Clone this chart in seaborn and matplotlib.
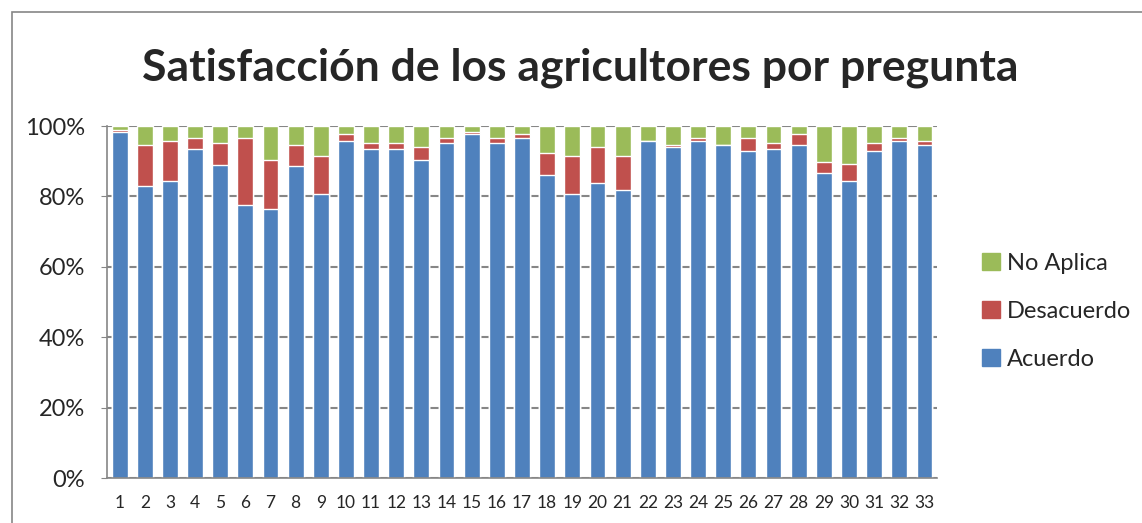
import matplotlib
matplotlib.use("Agg")
import matplotlib.pyplot as plt
import matplotlib.patches as mpatches
import numpy as np
import pandas as pd
import seaborn as sns

preguntas = [str(i) for i in range(1, 34)]
acuerdo = [98.3, 83.0, 84.4, 93.5, 89.0, 77.7, 76.5, 88.6, 80.7, 95.8, 93.5,
           93.5, 90.4, 95.2, 97.7, 95.2, 96.5, 86.1, 80.7, 83.8, 81.9, 95.8,
           94.1, 95.8, 94.7, 93.0, 93.5, 94.7, 86.7, 84.4, 93.0, 95.8, 94.7]
desacuerdo = [0.6, 11.6, 11.4, 3.0, 6.1, 18.8, 13.8, 6.0, 10.8, 1.8, 1.6,
              1.6, 3.6, 1.3, 0.6, 1.3, 1.1, 6.1, 10.8, 10.2, 9.6, 0.0,
              0.5, 0.7, 0.0, 3.5, 1.6, 2.9, 3.0, 4.7, 2.1, 0.7, 1.1]
no_aplica = [1.1, 5.4, 4.2, 3.5, 4.9, 3.5, 9.7, 5.4, 8.5, 2.4, 4.9,
             4.9, 6.0, 3.5, 1.7, 3.5, 2.4, 7.8, 8.5, 6.0, 8.5, 4.2,
             5.4, 3.5, 5.3, 3.5, 4.9, 2.4, 10.3, 10.9, 4.9, 3.5, 4.2]

series = ["Acuerdo", "Desacuerdo", "No Aplica"]
colores = {"Acuerdo": "#4F81BD", "Desacuerdo": "#C0504D", "No Aplica": "#9BBB59"}

sns.set_style("white")
plt.rcParams["font.family"] = ["Lato", "DejaVu Sans"]

df = pd.DataFrame({"pregunta": preguntas, "Acuerdo": acuerdo,
                   "Desacuerdo": desacuerdo, "No Aplica": no_aplica})
cum = df[series].cumsum(axis=1)

fig = plt.figure(figsize=(11.42, 5.23), dpi=100)
ax = fig.add_axes([0.0937, 0.086, 0.7268, 0.673])

# stacked bars: draw tallest first
for s in reversed(series):
    sns.barplot(x=df["pregunta"], y=cum[s], color=colores[s], width=0.63,
                saturation=1, ax=ax, zorder=2)

ax.set_ylim(0, 100)
ax.set_yticks(np.arange(0, 101, 20))
ax.set_yticklabels([f"{v}%" for v in range(0, 101, 20)], fontsize=17)
ax.tick_params(axis="x", labelsize=12.5, length=0, pad=12)
ax.tick_params(axis="y", length=4, color="#868686", left=True, pad=12)
ax.set_xlabel("")
ax.set_ylabel("")
ax.yaxis.grid(True, color="#868686", linewidth=1.5, zorder=0)
ax.set_axisbelow(True)
for side in ["top", "right"]:
    ax.spines[side].set_visible(False)
for side in ["left", "bottom"]:
    ax.spines[side].set_color("#868686")
    ax.spines[side].set_linewidth(1.2)

fig.suptitle("Satisfacción de los agricultores por pregunta", x=0.508, y=0.91,
             fontsize=32, fontweight="bold")

handles = [mpatches.Patch(color=colores[s], label=s) for s in reversed(series)]
fig.legend(handles=handles, loc="center left", bbox_to_anchor=(0.852, 0.405),
           frameon=False, fontsize=17, handlelength=0.75, handleheight=0.75,
           labelspacing=1.15, handletextpad=0.3, borderaxespad=0)

border = mpatches.Rectangle((0.0105, -0.1), 1.2, 1.077, transform=fig.transFigure,
                            fill=False, edgecolor="#868686", linewidth=1.2)
fig.patches.append(border)

fig.savefig("out.png", dpi=100)
